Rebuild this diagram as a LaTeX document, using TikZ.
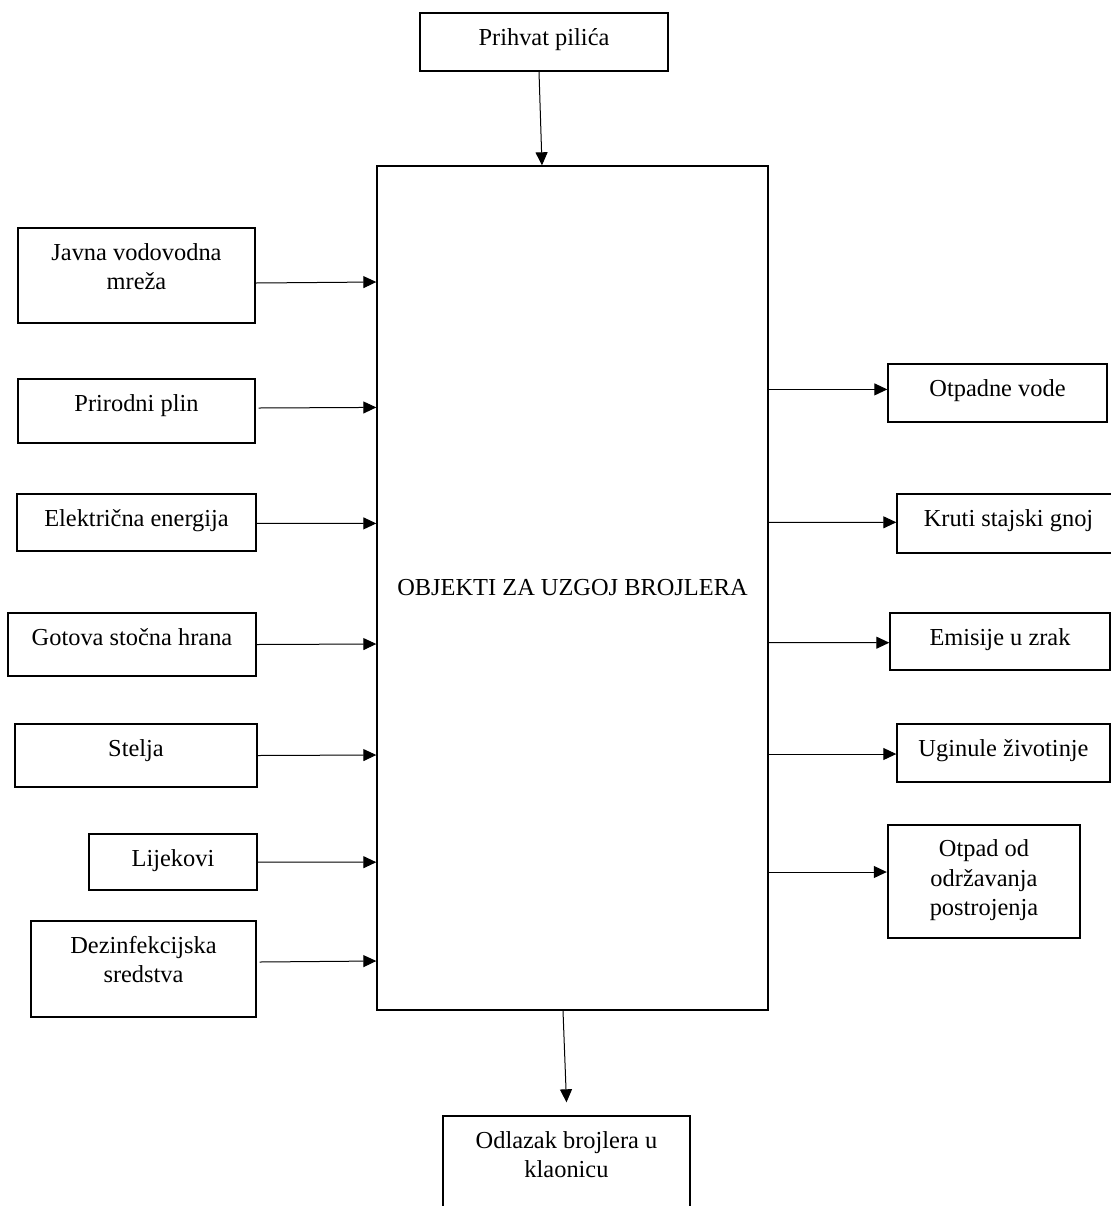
\documentclass[tikz,border=0pt]{standalone}
\usepackage{fontspec}
\setmainfont{Liberation Serif}
\usetikzlibrary{arrows.meta}

\begin{document}
\begin{tikzpicture}[
x=0.5pt,y=-0.5pt,
font=\fontsize{12.2}{14.8}\selectfont,
box/.style={rectangle,draw,line width=0.7pt,inner sep=0pt},
lbl/.style={anchor=north,align=center,inner sep=0pt,yshift=-7.7pt},
arr/.style={-{Triangle[length=6.5pt,width=6pt]},line width=0.5pt}
]
\useasboundingbox (0,0) rectangle (1111,1206);

% central object
\node[box,minimum width=195.5pt,minimum height=422pt] (main) at (572.5,588) {OBJEKTI ZA UZGOJ BROJLERA};
\node[box,minimum width=124pt,minimum height=29pt,label={[lbl]north:Prihvat pilića}] (prihvat) at (544,42) {};
\node[box,minimum width=123.5pt,minimum height=57pt,label={[lbl]north:Odlazak brojlera u\\klaonicu}] (odlazak) at (566.5,1173) {};

% inputs
\node[box,minimum width=118.5pt,minimum height=47.5pt,label={[lbl]north:Javna vodovodna\\mreža}] (voda) at (136.5,275.5) {};
\node[box,minimum width=118.5pt,minimum height=32pt,label={[lbl]north:Prirodni plin}] (plin) at (136.5,411) {};
\node[box,minimum width=119.5pt,minimum height=28.5pt,label={[lbl]north:Električna energija}] (struja) at (136.5,522.5) {};
\node[box,minimum width=124pt,minimum height=31.5pt,label={[lbl]north:Gotova stočna hrana}] (hrana) at (132,644.5) {};
\node[box,minimum width=121pt,minimum height=31.5pt,label={[lbl]north:Stelja}] (stelja) at (136,755.5) {};
\node[box,minimum width=84pt,minimum height=28pt,label={[lbl]north:Lijekovi}] (lijekovi) at (173,862) {};
\node[box,minimum width=112.5pt,minimum height=48pt,label={[lbl]north:Dezinfekcijska\\sredstva}] (dezinf) at (143.5,969) {};

% outputs
\node[box,minimum width=109.5pt,minimum height=29pt,label={[lbl]north:Otpadne vode}] (otpvode) at (997.5,393) {};
\node[box,minimum width=111.5pt,minimum height=29.5pt,label={[lbl]north:Kruti stajski gnoj}] (gnoj) at (1008.5,523.5) {};
\node[box,minimum width=110pt,minimum height=28.5pt,label={[lbl]north:Emisije u zrak}] (emisije) at (1000,641.5) {};
\node[box,minimum width=106.5pt,minimum height=29pt,label={[lbl]north:Uginule životinje}] (uginule) at (1003.5,753) {};
\node[box,line width=1.2pt,minimum width=96pt,minimum height=56.5pt,label={[lbl]north:Otpad od\\održavanja\\postrojenja}] (otpad) at (984,881.5) {};

\draw[arr] ([xshift=-2.5pt]prihvat.south) -- ([xshift=-15.25pt]main.north);
\draw[arr] ([xshift=-4.75pt]main.south) -- ([yshift=6.5pt]odlazak.north);

\draw[arr] ([yshift=-3.75pt]voda.east) -- ([yshift=153pt]main.west);
\draw[arr] ([xshift=1.5pt,yshift=1.5pt]plin.east) -- ([yshift=90.3pt]main.west);
\draw[arr] ([yshift=-0.4pt]struja.east) -- ([yshift=32.3pt]main.west);
\draw[arr] (hrana.east) -- ([yshift=-28pt]main.west);
\draw[arr] (stelja.east) -- ([yshift=-83.5pt]main.west);
\draw[arr] (lijekovi.east) -- ([yshift=-137.1pt]main.west);
\draw[arr] ([xshift=1.5pt,yshift=3.5pt]dezinf.east) -- ([yshift=-186.5pt]main.west);

\draw[arr] ([yshift=99.3pt]main.east) -- ([yshift=1.8pt]otpvode.west);
\draw[arr] ([yshift=32.8pt]main.east) -- ([yshift=0.6pt]gnoj.west);
\draw[arr] ([yshift=-27.3pt]main.east) -- ([yshift=-0.6pt]emisije.west);
\draw[arr] ([yshift=-83pt]main.east) -- ([yshift=-0.5pt]uginule.west);
\draw[arr] ([yshift=-142pt]main.east) -- ([yshift=4.75pt]otpad.west);
\end{tikzpicture}
\end{document}
